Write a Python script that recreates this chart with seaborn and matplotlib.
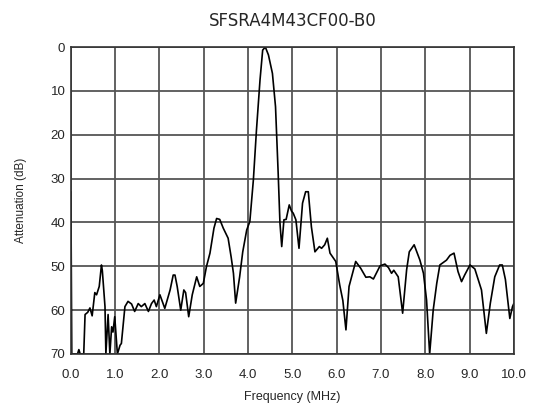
import numpy as np
import pandas as pd
import matplotlib
matplotlib.use("Agg")
import matplotlib.pyplot as plt
import seaborn as sns

# frequency (MHz) and attenuation (dB)
freq = [0.0, 0.02, 0.15, 0.18, 0.21, 0.29, 0.32, 0.38, 0.43, 0.48, 0.54, 0.58, 0.64,
        0.69, 0.71, 0.77, 0.79, 0.84, 0.88, 0.92, 0.95, 0.99, 1.05, 1.11, 1.14,
        1.22, 1.29, 1.37, 1.44, 1.52, 1.59, 1.67, 1.75, 1.82, 1.88, 1.93, 2.01,
        2.12, 2.24, 2.31, 2.35, 2.40, 2.48, 2.55, 2.59, 2.66, 2.74, 2.84, 2.91,
        2.99, 3.06, 3.14, 3.23, 3.29, 3.36, 3.44, 3.55, 3.62, 3.67, 3.72, 3.81,
        3.88, 3.97, 4.04, 4.12, 4.19, 4.27, 4.33, 4.39, 4.46, 4.55, 4.62, 4.68,
        4.72, 4.76, 4.81, 4.86, 4.93, 4.98, 5.02, 5.08, 5.15, 5.23, 5.30, 5.36,
        5.43, 5.51, 5.61, 5.66, 5.73, 5.79, 5.85, 5.98, 6.07, 6.14, 6.21, 6.28,
        6.43, 6.54, 6.66, 6.75, 6.83, 6.98, 7.09, 7.17, 7.24, 7.29, 7.39, 7.49,
        7.58, 7.64, 7.75, 7.88, 7.96, 8.03, 8.10, 8.18, 8.26, 8.33, 8.48, 8.56,
        8.65, 8.74, 8.82, 8.89, 9.01, 9.12, 9.27, 9.38, 9.47, 9.57, 9.68, 9.74,
        9.81, 9.91, 9.97, 10.0]
atten = [33.0, 70.0, 70.0, 69.0, 70.0, 70.0, 61.0, 60.5, 59.5, 61.3, 56.0, 56.5, 54.6,
         49.7, 51.0, 59.2, 70.0, 61.0, 70.0, 63.8, 65.0, 61.5, 70.0, 68.0, 67.6,
         59.2, 58.0, 58.6, 60.3, 58.5, 59.2, 58.5, 60.3, 58.5, 57.7, 59.2, 56.5,
         59.6, 55.4, 52.0, 52.0, 54.6, 60.0, 55.4, 56.0, 61.5, 56.5, 52.4, 54.6,
         53.9, 50.1, 47.0, 41.3, 39.1, 39.3, 41.3, 43.6, 48.0, 51.6, 58.4, 52.4,
         46.7, 41.7, 39.8, 30.3, 18.9, 7.5, 0.7, 0.0, 1.8, 6.0, 13.6, 28.8,
         40.1, 45.5, 39.4, 39.3, 36.0, 37.4, 37.9, 39.4, 45.9, 35.6, 33.0, 33.0,
         41.0, 46.7, 45.5, 45.9, 45.1, 43.6, 47.0, 48.9, 54.3, 57.8, 64.5, 54.6,
         48.9, 50.4, 52.5, 52.4, 52.9, 49.9, 49.5, 50.3, 51.6, 50.9, 52.4, 60.7,
         50.8, 46.7, 45.1, 48.6, 51.6, 57.7, 70.0, 60.0, 53.9, 49.7, 48.6, 47.5,
         47.0, 51.2, 53.5, 52.0, 49.7, 50.6, 55.4, 65.3, 58.4, 52.4, 49.7, 49.7,
         53.0, 61.9, 59.2, 58.5]

x_ticks = np.arange(0, 11, 1)
x_labels = [f"{v:.1f}" for v in x_ticks]
y_ticks = np.arange(0, 80, 10)

df = pd.DataFrame({"Frequency (MHz)": freq, "Attenuation (dB)": atten})

sns.set_style("white")
plt.rcParams["font.family"] = ["Liberation Sans", "DejaVu Sans"]

fig = plt.figure(figsize=(5.33, 4.09), dpi=100)
ax = fig.add_axes([0.133, 0.1345, 0.831, 0.7505])

sns.lineplot(data=df, x="Frequency (MHz)", y="Attenuation (dB)", ax=ax,
             color="black", linewidth=1.2, sort=False, estimator=None)

ax.set_xlim(0, 10)
ax.set_ylim(70, 0)
ax.set_xticks(x_ticks)
ax.set_xticklabels(x_labels)
ax.set_yticks(y_ticks)
ax.grid(True, color="#555555", linewidth=1.3)
ax.tick_params(axis="x", length=0, pad=11, labelsize=9.5)
ax.tick_params(axis="y", length=0, pad=4, labelsize=9.5)
for s in ax.spines.values():
    s.set_color("#333333")
    s.set_linewidth(1.2)

ax.set_xlabel("Frequency (MHz)", fontsize=9, labelpad=7)
ax.set_ylabel("Attenuation (dB)", fontsize=8.5, labelpad=17)
ax.set_title("SFSRA4M43CF00-B0", fontsize=12, pad=15, fontweight="medium",
             family=["DejaVu Sans"])

fig.savefig("out.png", dpi=100)
